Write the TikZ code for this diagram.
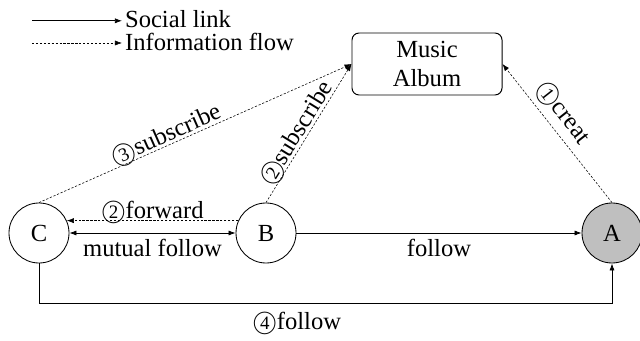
\documentclass[tikz,border=0pt]{standalone}
\usepackage{fontspec}
\setmainfont{Liberation Serif}
\usepackage{tikz}
\usetikzlibrary{arrows.meta}

% thin circled digit
\newcommand{\num}[1]{{\ooalign{$\bigcirc$\cr\hfil\fontsize{13.5}{13.5}\selectfont #1\hfil\cr}}}

\tikzset{
  user/.style={circle, draw, line width=0.6pt, minimum size=1.5cm, inner sep=0pt},
  album/.style={rectangle, rounded corners=5pt, draw, line width=0.7pt, minimum width=3.75cm, minimum height=1.55cm, align=center},
  social/.style={line width=0.5pt, -{Latex[length=5pt,width=3.6pt]}},
  info/.style={line width=0.4pt, dash pattern=on 1.6pt off 1.2pt, -{Latex[length=5pt,width=3.6pt]}}
}

\begin{document}
\begin{tikzpicture}[font=\fontsize{17.5}{19}\selectfont]
\useasboundingbox (0,0) rectangle (16,-8.525);

% legend
\coordinate (l1) at (0.8,-0.52);
\coordinate (l2) at (0.8,-1.075);
\node[anchor=west, inner sep=2pt] (soc) at (3.05,-0.48) {Social link};
\node[anchor=west, inner sep=2pt] (inf) at (3.05,-1.05) {Information flow};
\draw[social] (l1) -- (l1 -| soc.west);
\draw[info] (l2) -- (l2 -| inf.west);

% users and album
\node[user] (C) at (0.975,-5.825) {C};
\node[user] (B) at (6.65,-5.825) {B};
\node[user, fill=gray!50] (A) at (15.3,-5.825) {A};
\node[album] (album) at (10.675,-1.6) {Music\\[2pt]Album};

% social links
\draw[social, {Latex[length=5pt,width=3.6pt]}-{Latex[length=5pt,width=3.6pt]}] (C) -- node[below, inner sep=4pt] {mutual follow} (B);
\draw[social] (B) -- node[below, inner sep=4pt] {follow} (A);
\draw[social] (C.south) -- ++(0,-1) -| node[pos=0.225, below, inner sep=6pt] {\num{4}follow} (A.south);

% information flow
\draw[info] (B.156) -- node[above, inner sep=1pt] {\num{2}forward} (C.24);
\draw[info] (A.north) -- node[sloped, above, pos=0.57, inner sep=7pt] {\num{1}creat} (album.east);
\draw[info] (B.north) -- node[sloped, above, pos=0.46, inner sep=2pt] {\num{2}subscribe} (album.west);
\draw[info] (C.north) -- node[sloped, above, pos=0.42, inner sep=2pt] {\num{3}subscribe} (album.west);
\end{tikzpicture}
\end{document}
